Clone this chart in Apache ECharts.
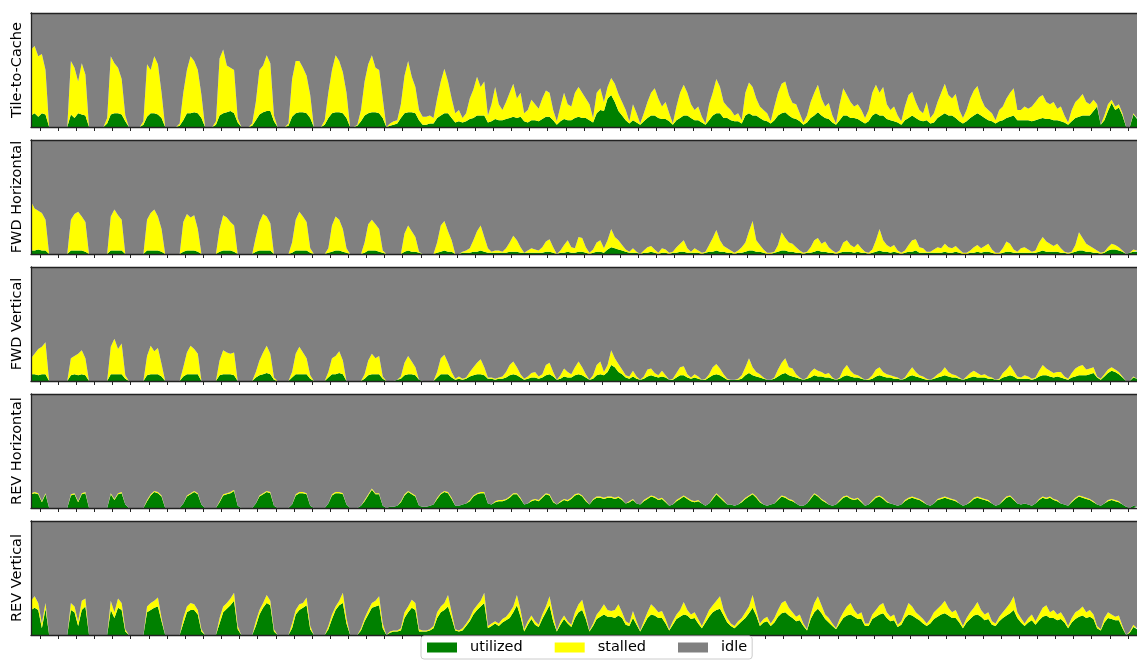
<!DOCTYPE html>
<html><head><meta charset="utf-8">
<script src="https://cdn.jsdelivr.net/npm/echarts@6/dist/echarts.min.js"></script>
<style>html,body{margin:0;padding:0;background:#fff}#c{width:1137px;height:660px}</style>
</head><body><div id="c"></div>
<script>
const panelNames = ['Tile-to-Cache', 'FWD Horizontal', 'FWD Vertical', 'REV Horizontal', 'REV Vertical'];
const seriesNames = ['utilized', 'stalled', 'idle'];
const sampleStart = -0.5;
const sampleStep = 0.2;
const tickValues = [0,1,2,3,4,5,6,7,8,9,10,11,12,13,14,15,16,17,18,19,20,21,22,23,24,25,26,27,28,29,30,31,32,33,34,35,36,37,38,39,40,41,42,43,44,45,46,47,48,49,50,51,52,53,54,55,56,57,58,59,60];

const tcUtil = [10,12,9,12,11,0,0,0,0,0,0,11,8,12,11,10,0,0,0,0,0,3,11,12,12,11,5,0,0,0,0,2,9,12,12,11,8,0,0,0,0,1,6,12,12,13,12,8,0,0,0,2,10,12,13,14,12,4,0,0,0,1,6,11,13,14,14,5,0,0,0,1,9,12,13,13,12,8,0,0,0,2,8,12,13,13,12,8,0,0,1,5,10,12,13,13,12,8,0,1,2,3,8,12,13,13,12,6,2,2,3,3,8,10,12,12,8,4,5,4,5,7,8,10,10,10,4,5,7,6,6,7,8,9,8,9,5,4,6,6,5,7,9,9,6,2,5,7,6,6,8,9,8,8,6,4,12,15,14,25,28,22,14,10,6,3,6,4,2,5,8,10,10,8,7,7,5,2,6,8,10,10,8,6,6,4,2,6,10,12,12,8,8,6,5,5,3,10,12,10,10,8,6,5,3,6,10,12,13,10,8,7,5,2,4,8,10,13,10,8,7,4,2,6,10,10,8,8,7,5,3,5,10,12,10,10,7,6,5,4,2,6,8,10,8,6,5,6,3,4,8,10,12,10,10,8,5,3,5,8,10,12,10,8,6,5,3,5,6,8,9,10,6,6,6,6,5,6,7,8,7,7,6,6,5,4,2,5,8,9,10,10,10,14,18,2,6,14,21,15,17,10,0,0,11,7];
const tcStall = [58,59,53,52,39,0,0,0,0,0,0,47,44,28,45,36,0,0,0,0,0,5,51,44,40,31,5,0,0,0,0,3,46,38,50,44,22,0,0,0,0,2,24,38,50,45,38,20,0,0,0,3,50,56,41,38,38,4,0,0,0,2,16,39,41,49,42,5,0,0,0,2,33,46,45,39,33,20,0,0,0,4,22,38,50,45,36,22,0,0,1,10,30,43,50,39,38,17,0,2,3,3,12,33,45,31,23,9,7,7,7,5,17,30,39,28,17,8,10,4,7,18,25,34,25,30,6,15,28,14,9,15,22,29,17,21,7,11,18,14,11,18,23,21,9,3,13,23,14,12,22,26,22,17,14,4,18,19,8,10,15,16,15,12,9,2,14,8,1,7,14,20,24,17,11,15,7,1,12,22,27,20,12,9,12,5,1,14,20,30,23,14,10,9,5,7,3,20,27,25,15,10,9,7,2,12,20,26,27,18,13,13,7,2,6,14,20,24,15,10,14,6,1,14,24,18,14,10,13,10,5,10,20,25,20,25,13,9,13,6,3,12,20,21,14,9,7,16,5,8,14,20,26,18,15,21,10,5,10,17,22,24,15,10,9,7,3,10,12,17,21,24,9,9,12,10,13,16,19,20,15,13,16,10,13,6,2,10,14,16,19,12,10,10,2,0,4,6,3,3,3,2,0,0,1,1];

const fhUtil = [3,3,4,3,3,0,0,0,0,0,0,3,3,3,3,2,0,0,0,0,0,0,3,3,3,3,0,0,0,0,0,0,3,3,3,3,2,0,0,0,0,0,2,3,3,3,2,0,0,0,0,0,2,3,3,3,2,0,0,0,0,0,2,3,3,3,3,0,0,0,0,0,1,3,3,3,3,1,0,0,0,0,1,2,3,3,2,1,0,0,0,0,1,3,3,3,2,1,0,0,0,0,0,2,3,2,2,1,0,0,0,0,1,2,3,2,2,0,0,1,1,1,2,2,3,2,1,1,1,1,1,1,2,2,2,1,1,1,1,1,1,1,2,2,1,0,1,1,2,1,1,2,2,1,0,1,2,2,1,4,6,5,4,3,2,1,1,1,0,1,1,2,1,0,1,1,0,1,1,2,2,1,1,1,1,0,1,2,2,3,2,2,1,1,0,1,1,2,3,3,2,2,1,0,0,1,2,3,3,2,2,1,1,0,1,1,2,3,2,2,1,1,0,1,2,2,2,1,2,1,1,0,1,2,3,2,2,1,2,1,0,1,2,2,3,1,1,1,1,1,1,1,2,1,1,2,1,0,0,1,1,2,1,2,2,1,0,0,1,2,2,1,1,1,1,1,1,1,2,3,2,2,2,2,1,1,0,1,2,3,3,2,2,1,1,0,1,3,4,4,3,2,0,1,2,2];
const fhStall = [43,37,34,33,27,0,0,0,0,0,0,27,32,34,30,26,0,0,0,0,0,0,30,36,31,27,0,0,0,0,0,0,27,33,36,30,20,0,0,0,0,0,26,32,29,31,20,0,0,0,0,0,20,31,29,25,23,0,0,0,0,0,13,25,32,30,24,0,0,0,0,0,9,27,34,30,25,4,0,0,0,0,4,23,30,27,20,4,0,0,0,0,9,23,27,23,20,2,0,0,0,0,0,16,22,18,13,1,0,0,0,0,9,23,26,18,10,0,0,1,2,4,10,18,22,13,4,1,2,2,1,4,8,14,10,5,0,2,4,3,2,5,9,11,5,0,2,7,10,5,4,13,12,5,1,3,8,10,4,8,16,10,8,5,2,1,4,1,0,2,5,5,3,1,4,3,1,1,5,7,10,4,1,4,2,1,1,6,12,18,10,5,4,2,1,2,5,8,17,26,10,6,3,1,1,1,6,16,11,8,7,5,2,1,1,5,10,11,7,9,5,2,1,2,8,10,6,5,7,4,1,1,3,10,19,10,6,5,6,2,1,2,6,10,10,5,4,1,1,3,5,4,7,5,4,5,3,1,1,2,5,6,4,5,7,3,1,1,4,9,7,3,1,4,5,3,1,2,8,12,9,7,5,7,4,1,1,1,6,16,11,7,5,4,2,1,1,3,5,4,3,1,0,0,2,1];

const fvUtil = [6,6,5,6,6,0,0,0,0,0,0,5,6,5,6,5,0,0,0,0,0,0,6,6,6,6,2,0,0,0,0,0,5,6,6,6,4,0,0,0,0,0,4,6,6,6,6,0,0,0,0,0,5,6,6,6,5,0,0,0,0,0,3,5,6,7,6,1,0,0,0,0,3,6,6,6,6,2,0,0,0,0,3,6,6,7,6,0,0,0,0,0,2,5,6,6,6,2,0,0,0,1,2,5,6,6,5,1,0,0,0,0,3,6,6,6,3,1,2,1,2,4,5,6,6,5,2,2,1,2,2,3,5,6,5,3,1,2,3,3,2,3,5,6,4,1,2,4,3,3,5,6,5,3,1,2,5,6,5,8,14,12,8,6,3,2,4,2,1,2,4,5,4,3,4,3,1,1,3,5,5,3,2,3,2,1,1,3,5,6,5,3,1,1,1,1,2,5,7,5,4,3,2,1,1,2,4,6,7,5,4,3,2,1,2,3,5,4,4,3,3,2,1,2,4,5,4,3,3,2,1,1,2,4,5,4,3,3,2,2,1,2,4,5,4,3,2,1,1,2,3,4,5,4,3,3,2,1,2,3,4,3,3,3,2,2,1,1,3,4,5,4,2,2,2,2,1,2,4,5,5,4,3,4,3,2,1,3,4,5,5,5,6,7,3,1,4,7,9,8,6,3,0,0,3,2];
const fvStall = [14,18,23,24,28,0,0,0,0,0,0,15,16,19,21,15,0,0,0,0,0,0,24,31,22,27,3,0,0,0,0,0,17,25,20,23,11,0,0,0,0,0,8,19,25,22,18,0,0,0,0,0,13,21,19,18,20,0,0,0,0,0,5,13,19,24,18,2,0,0,0,0,5,18,24,19,14,3,0,0,0,0,5,14,16,19,12,0,0,0,0,0,4,13,18,14,16,2,0,0,0,0,2,11,16,11,7,0,0,0,0,0,5,14,17,10,5,1,2,1,1,4,7,10,13,7,1,1,1,1,2,5,9,11,7,3,1,2,4,5,2,3,9,10,4,0,3,7,5,3,7,11,7,3,0,3,9,11,3,6,13,8,7,4,2,2,5,2,0,2,6,6,3,2,5,2,0,1,4,7,8,3,1,3,2,0,1,3,7,9,6,3,1,0,0,1,3,7,13,7,4,3,1,0,0,1,6,10,13,7,7,3,1,0,1,5,6,5,4,3,4,1,0,1,6,9,5,3,2,1,0,1,3,6,7,4,3,2,2,1,0,1,4,7,4,2,2,1,0,1,3,4,7,4,3,2,1,0,2,4,5,4,2,3,2,1,0,1,4,6,9,5,2,1,3,2,1,1,5,9,6,5,4,4,5,2,1,4,7,8,9,5,5,5,1,1,2,3,3,2,2,1,0,0,1,0];

const rhUtil = [12,13,12,5,12,0,0,0,0,0,0,11,12,5,12,13,0,0,0,0,0,0,12,7,12,13,3,0,0,0,0,0,6,11,14,13,10,0,0,0,0,0,4,10,12,14,12,3,0,0,0,0,5,11,12,13,15,2,0,0,0,0,4,10,12,14,13,2,0,0,0,0,3,11,13,13,12,2,0,0,0,0,4,11,13,13,12,3,0,0,0,2,6,11,16,12,12,2,0,1,1,2,5,11,14,12,10,2,1,1,2,3,8,12,14,13,8,2,2,3,4,6,10,12,13,13,4,3,5,6,6,7,9,12,12,8,3,4,6,7,6,9,12,11,5,3,5,7,6,8,11,12,10,6,3,7,9,9,8,9,9,8,9,7,4,5,7,4,3,6,8,10,9,7,8,5,2,3,6,8,10,8,6,5,6,4,2,4,8,12,9,6,3,3,2,3,5,8,10,12,9,5,3,2,3,4,7,10,9,7,6,4,2,2,4,8,12,10,7,5,3,2,3,6,9,10,8,7,8,5,2,3,6,9,10,8,5,4,3,2,3,6,8,9,8,7,5,3,2,4,7,8,9,8,7,6,4,2,3,5,8,9,8,7,6,4,2,3,6,9,10,7,4,3,4,3,2,4,7,9,8,9,7,6,4,3,2,5,8,10,9,8,7,5,3,2,4,6,7,6,5,3,1,0,2,1];
const rhStall = [1,1,1,1,1,0,0,0,0,0,0,1,1,1,1,1,0,0,0,0,0,0,1,1,1,1,0,0,0,0,0,0,1,1,1,1,1,0,0,0,0,0,0,1,1,1,1,0,0,0,0,0,1,1,1,1,1,0,0,0,0,0,0,1,1,1,1,0,0,0,0,0,0,1,1,1,1,0,0,0,0,0,0,1,1,1,1,0,0,0,0,0,1,1,1,1,1,0,0,0,0,0,1,1,1,1,1,0,0,0,0,0,1,1,1,1,1,0,0,0,0,1,1,1,1,1,0,0,1,1,1,1,1,1,1,1,0,0,1,1,1,1,1,1,1,0,1,1,1,1,1,1,1,1,0,1,1,1,1,1,1,1,1,1,0,1,1,0,0,1,1,1,1,1,1,1,0,0,1,1,1,1,1,1,1,0,0,0,1,1,1,1,0,0,0,0,1,1,1,1,1,1,0,0,0,0,1,1,1,1,1,0,0,0,0,1,1,1,1,1,0,0,0,1,1,1,1,1,1,1,0,0,1,1,1,1,1,0,0,0,0,1,1,1,1,1,1,0,0,0,1,1,1,1,1,1,0,0,0,1,1,1,1,1,1,0,0,0,1,1,1,1,0,0,0,0,0,0,1,1,1,1,1,1,0,0,0,1,1,1,1,1,1,1,0,0,0,1,1,1,1,0,0,0,0,0];

const rvUtil = [22,24,22,6,23,0,0,0,0,0,0,22,20,8,22,25,0,0,0,0,0,0,22,15,24,22,3,0,0,0,0,0,20,22,24,25,12,0,0,0,0,0,10,20,22,22,18,3,0,0,0,0,10,20,23,26,30,5,0,0,0,0,8,18,24,28,26,3,0,0,0,0,6,18,22,24,26,5,0,0,0,0,5,14,22,26,28,10,0,0,0,4,12,18,24,25,26,6,0,2,3,3,4,15,20,24,22,3,3,3,4,6,15,20,22,25,15,4,3,4,8,12,18,22,25,28,6,8,10,8,11,13,15,20,26,16,3,9,14,9,7,14,20,26,12,3,9,14,10,7,15,20,22,14,3,8,14,16,18,16,16,15,17,15,9,8,15,9,3,9,15,18,17,15,15,10,4,9,14,16,18,17,14,15,10,6,11,16,20,22,23,17,11,8,6,9,12,15,19,24,17,8,11,12,8,11,16,19,20,17,15,12,13,8,4,14,20,23,19,14,11,8,5,10,15,17,18,16,14,14,8,8,14,16,18,19,15,12,13,7,9,15,18,17,15,13,10,8,10,14,16,18,19,17,15,15,11,6,11,14,17,18,16,13,14,9,8,12,15,17,19,22,15,11,8,11,13,9,13,16,17,15,15,13,14,11,6,11,14,16,17,15,16,14,6,4,11,15,14,13,13,6,0,2,7,5];
const rvStall = [8,10,6,4,5,0,0,0,0,0,0,6,5,4,8,7,0,0,0,0,0,0,8,5,8,6,2,0,0,0,0,0,5,6,6,8,3,0,0,0,0,0,5,5,6,5,4,2,0,0,0,0,5,5,5,6,7,3,0,0,0,0,4,4,4,7,4,2,0,0,0,0,4,4,5,4,7,3,0,0,0,0,3,4,3,4,9,5,0,0,0,2,3,4,4,5,8,4,0,1,1,1,2,5,5,7,6,2,1,1,1,2,5,5,6,10,5,1,1,2,2,3,4,4,5,9,2,2,2,2,3,3,5,5,9,6,2,3,3,3,2,4,5,8,6,1,3,3,2,2,5,7,9,4,1,2,4,6,9,6,5,7,10,5,3,2,6,3,1,3,5,9,7,5,6,4,1,3,4,6,11,5,4,5,4,2,4,6,6,8,11,5,4,2,2,3,3,5,6,11,5,2,3,4,2,4,6,9,10,7,5,4,5,2,1,4,8,11,7,4,4,2,1,4,5,8,10,6,4,6,2,2,4,6,8,9,5,4,5,2,3,5,10,8,5,4,4,2,4,6,7,8,11,7,5,7,4,2,4,6,7,11,6,5,6,3,2,4,5,7,9,12,5,4,2,4,5,3,5,8,9,5,7,5,6,4,2,4,6,6,8,5,6,4,2,1,4,5,4,3,4,2,0,1,2,1];

const panels = [
  { util: tcUtil, stall: tcStall },
  { util: fhUtil, stall: fhStall },
  { util: fvUtil, stall: fvStall },
  { util: rhUtil, stall: rhStall },
  { util: rvUtil, stall: rvStall }
];

const colors = ['#008000', '#ffff00', '#808080'];
const tops = [13, 140, 267, 394, 521];
const FONT = 'DejaVu Sans';
const lineCol = '#222';
const nSamples = tcUtil.length;
const sampleX = tcUtil.map((_, i) => (sampleStart + sampleStep * i).toFixed(1));
const xMax = sampleStart + sampleStep * (nSamples - 1);

const grids = [], xAxes = [], yAxes = [], series = [];
panels.forEach((p, k) => {
  grids.push({ left: 31, width: 1108, top: tops[k], height: 114, show: false });
  xAxes.push({
    gridIndex: k, type: 'category', data: sampleX, boundaryGap: false, show: false
  });
  xAxes.push({
    gridIndex: k, type: 'value', position: 'bottom', min: sampleStart, max: xMax, z: 5,
    axisLine: { show: true, onZero: false, lineStyle: { color: lineCol, width: 1.3 } },
    axisTick: { show: true, customValues: tickValues, length: 4, lineStyle: { color: lineCol, width: 1 } },
    axisLabel: { show: false }, splitLine: { show: false }
  });
  xAxes.push({
    gridIndex: k, type: 'value', position: 'top', min: sampleStart, max: xMax, z: 5,
    axisLine: { show: true, onZero: false, lineStyle: { color: lineCol, width: 1.3 } },
    axisTick: { show: false }, axisLabel: { show: false }, splitLine: { show: false }
  });
  yAxes.push({
    gridIndex: k, type: 'value', min: 0, max: 100, z: 5,
    name: panelNames[k], nameLocation: 'middle', nameGap: 6,
    nameTextStyle: { fontFamily: FONT, fontSize: 14.5, color: '#000' },
    axisLine: { show: true, onZero: false, lineStyle: { color: lineCol, width: 1.3 } },
    axisTick: { show: false }, axisLabel: { show: false }, splitLine: { show: false }
  });
  const idle = p.util.map((u, i) => 100 - u - p.stall[i]);
  [p.util, p.stall, idle].forEach((arr, j) => {
    series.push({
      name: seriesNames[j], type: 'line', xAxisIndex: 3 * k, yAxisIndex: k,
      stack: 'panel' + k, symbol: 'none', smooth: false, silent: true,
      lineStyle: { width: 0, color: colors[j] },
      itemStyle: { color: colors[j] },
      areaStyle: { color: colors[j], opacity: 1 },
      data: arr
    });
  });
});

const chart = echarts.init(document.getElementById('c'), null, { renderer: 'canvas' });
chart.setOption({
  animation: false,
  backgroundColor: '#fff',
  grid: grids, xAxis: xAxes, yAxis: yAxes, series: series,
  legend: {
    data: seriesNames, left: 421, top: 636, orient: 'horizontal',
    icon: 'rect', itemWidth: 30, itemHeight: 10, itemGap: 32,
    selectedMode: false, backgroundColor: '#fff', borderColor: '#ccc', borderWidth: 1, borderRadius: 3,
    padding: [4, 5, 4, 6], z: 20,
    textStyle: { fontFamily: FONT, fontSize: 14.5, color: '#000', padding: [0, 0, 0, 8] }
  }
});
</script></body></html>
